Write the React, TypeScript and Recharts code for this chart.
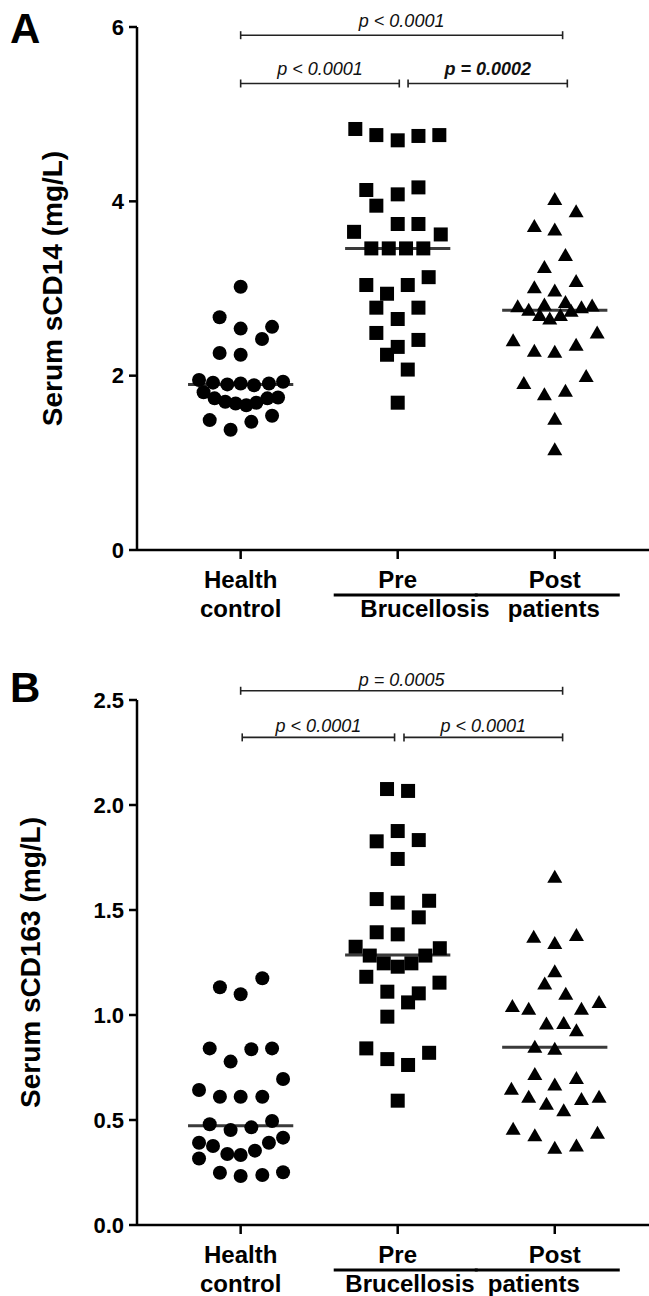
import React from 'react';
import { ScatterChart, Scatter, XAxis, YAxis, ReferenceLine } from 'recharts';

const FONT = '"Liberation Sans", Arial, Helvetica, sans-serif';

// Categories / tick labels
const categories = ['Health control', 'Pre', 'Post'];
const catTop = ['Health', 'Pre', 'Post'];
const catBottom = ['control', '', ''];
const groupWords = ['Brucellosis', 'patients'];

// ---------- Panel A: Serum sCD14 (mg/L) ----------
const aHealthValues = [3.02, 2.67, 2.54, 2.56, 2.42, 2.26, 2.24, 1.95, 1.92, 1.9, 1.91, 1.89, 1.91, 1.93, 1.81, 1.74, 1.7, 1.68, 1.66, 1.69, 1.74, 1.75, 1.49, 1.38, 1.47, 1.54];
const aHealthJitter = [0, -0.134, 0, 0.2, 0.136, -0.134, 0, -0.265, -0.176, -0.085, 0, 0.085, 0.18, 0.27, -0.236, -0.166, -0.098, -0.032, 0.036, 0.1, 0.17, 0.238, -0.197, -0.064, 0.068, 0.2];
const aPreValues = [4.83, 4.76, 4.7, 4.75, 4.76, 4.13, 4.08, 4.16, 3.95, 3.65, 3.74, 3.74, 3.62, 3.46, 3.46, 3.46, 3.46, 3.04, 2.94, 3.04, 3.13, 2.78, 2.78, 2.65, 2.49, 2.41, 2.33, 2.24, 2.07, 1.69];
const aPreJitter = [-0.27, -0.136, 0, 0.132, 0.265, -0.2, 0, 0.132, -0.136, -0.278, 0, 0.132, 0.274, -0.168, -0.057, 0.053, 0.163, -0.2, -0.068, 0.064, 0.197, -0.136, 0.132, 0, -0.136, 0.132, 0, -0.068, 0.064, 0];
const aPostValues = [4.02, 3.88, 3.71, 3.67, 3.38, 3.24, 3.08, 3.01, 2.97, 2.79, 2.75, 2.81, 2.84, 2.78, 2.8, 2.69, 2.65, 2.69, 2.74, 2.4, 2.49, 2.28, 2.27, 2.35, 1.99, 1.91, 1.78, 1.82, 1.5, 1.15];
const aPostJitter = [0, 0.136, -0.13, 0, 0.068, -0.066, 0.136, -0.13, 0, -0.236, -0.166, -0.066, 0.068, 0.17, 0.238, -0.096, -0.032, 0.036, 0.104, -0.265, 0.27, -0.13, 0, 0.136, 0.2, -0.197, -0.066, 0.068, 0, 0];
const aMedians = [1.9, 3.46, 2.75];
const aTicks = [0, 2, 4, 6];
const aBrackets = [
  { x1: 0, x2: 2.05, y: 5.906, text: 'p < 0.0001', bold: false },
  { x1: 0, x2: 1.01, y: 5.352, text: 'p < 0.0001', bold: false },
  { x1: 1.066, x2: 2.08, y: 5.352, text: 'p = 0.0002', bold: true },
];

// ---------- Panel B: Serum sCD163 (mg/L) ----------
const bHealthValues = [1.175, 1.132, 1.099, 0.841, 0.837, 0.841, 0.778, 0.695, 0.643, 0.611, 0.611, 0.611, 0.48, 0.452, 0.465, 0.495, 0.392, 0.376, 0.338, 0.333, 0.354, 0.392, 0.416, 0.317, 0.249, 0.233, 0.238, 0.251];
const bHealthJitter = [0.138, -0.132, 0, -0.197, 0.068, 0.2, -0.064, 0.27, -0.265, -0.132, 0, 0.138, -0.197, -0.064, 0.068, 0.2, -0.265, -0.176, -0.085, 0, 0.091, 0.18, 0.27, -0.265, -0.132, 0, 0.138, 0.27];
const bPreValues = [2.076, 2.067, 1.876, 1.827, 1.833, 1.743, 1.552, 1.535, 1.544, 1.465, 1.394, 1.384, 1.325, 1.318, 1.283, 1.246, 1.23, 1.246, 1.283, 1.182, 1.154, 1.111, 1.103, 1.06, 0.992, 0.841, 0.82, 0.79, 0.762, 0.592];
const bPreJitter = [-0.068, 0.066, 0, -0.134, 0.134, 0, -0.134, 0, 0.2, 0.134, -0.134, 0, -0.268, 0.268, -0.178, -0.089, 0, 0.087, 0.176, -0.2, 0.266, -0.066, 0.134, 0.066, -0.066, -0.2, 0.2, -0.066, 0.066, 0];
const bPostValues = [1.656, 1.37, 1.341, 1.378, 1.206, 1.148, 1.099, 1.04, 1.027, 1.027, 1.059, 0.957, 0.96, 0.925, 0.846, 0.837, 0.717, 0.667, 0.698, 0.646, 0.608, 0.575, 0.544, 0.598, 0.608, 0.456, 0.425, 0.365, 0.376, 0.437];
const bPostJitter = [0, -0.134, 0, 0.138, 0, -0.064, 0.07, -0.27, -0.166, 0.17, 0.282, -0.053, 0.057, 0.138, -0.127, 0, -0.127, 0, 0.138, -0.276, -0.166, -0.053, 0.057, 0.17, 0.282, -0.265, -0.127, 0, 0.138, 0.272];
const bMedians = [0.473, 1.286, 0.846];
const bTicks = [0, 0.5, 1, 1.5, 2, 2.5];
const bBrackets = [
  { x1: 0, x2: 2.05, y: 2.544, text: 'p = 0.0005', bold: false },
  { x1: 0.01, x2: 0.98, y: 2.322, text: 'p < 0.0001', bold: false },
  { x1: 1.04, x2: 2.05, y: 2.322, text: 'p < 0.0001', bold: false },
];

const toPoints = (values: number[], jitter: number[], group: number) =>
  values.map((v, i) => ({ x: group + jitter[i], y: v }));

const CircleShape = (p: any) => <circle cx={p.cx} cy={p.cy} r={7} fill="#000" />;
const SquareShape = (p: any) => <rect x={p.cx - 7} y={p.cy - 7} width={14} height={14} fill="#000" />;
const TriangleShape = (p: any) => (
  <polygon points={`${p.cx},${p.cy - 7.5} ${p.cx + 7.5},${p.cy + 5.5} ${p.cx - 7.5},${p.cy + 5.5}`} fill="#000" />
);

const CategoryTick = (props: any) => {
  const { x, y, payload, wordEnd, wordStart } = props;
  const i = Math.round(payload.value);
  return (
    <g fontFamily={FONT} fontWeight="bold" fontSize={24} fill="#000">
      <text x={x} y={y + 29} textAnchor="middle" fill="#000">{catTop[i]}</text>
      {catBottom[i] ? (
        <text x={x} y={y + 58} textAnchor="middle" fill="#000">{catBottom[i]}</text>
      ) : null}
      {i === 1 ? (
        <g>
          <line x1={x - 64} x2={x + 80} y1={y + 36} y2={y + 36} stroke="#000" strokeWidth={3} />
          <text x={x + wordEnd} y={y + 58} textAnchor="end" fill="#000">{groupWords[0]}</text>
        </g>
      ) : null}
      {i === 2 ? (
        <g>
          <line x1={x - 80} x2={x + 65} y1={y + 36} y2={y + 36} stroke="#000" strokeWidth={3} />
          <text x={x - wordStart} y={y + 58} textAnchor="start" fill="#000">{groupWords[1]}</text>
        </g>
      ) : null}
    </g>
  );
};

const BracketLabel = ({ viewBox, text, bold, gap }: any) => {
  if (!viewBox) return null;
  const { x, y, width } = viewBox;
  return (
    <g>
      <line x1={x} x2={x} y1={y - 4} y2={y + 4} stroke="#222" strokeWidth={1.6} />
      <line x1={x + width} x2={x + width} y1={y - 4} y2={y + 4} stroke="#222" strokeWidth={1.6} />
      <text
        x={x + width / 2}
        y={y - gap}
        textAnchor="middle"
        fontFamily={FONT}
        fontStyle="italic"
        fontWeight={bold ? 'bold' : 'normal'}
        fontSize={18}
        fill="#111"
      >
        {text}
      </text>
    </g>
  );
};

const YTitle = ({ viewBox, title, letter, titleX, letterY, letterSize }: any) => {
  if (!viewBox) return null;
  const cy = viewBox.y + viewBox.height / 2;
  return (
    <g fontFamily={FONT} fontWeight="bold" fill="#000">
      <text x={10} y={letterY} fontSize={letterSize} fill="#000">{letter}</text>
      <text
        x={titleX}
        y={cy}
        fontSize={28}
        textAnchor="middle"
        dominantBaseline="central"
        transform={`rotate(-90 ${titleX} ${cy})`}
        fill="#000"
      >
        {title}
      </text>
    </g>
  );
};

type PanelProps = {
  height: number;
  marginTop: number;
  marginBottom: number;
  xAxisHeight: number;
  domainMax: number;
  ticks: number[];
  fmt: (v: number) => string;
  health: { x: number; y: number }[];
  pre: { x: number; y: number }[];
  post: { x: number; y: number }[];
  medians: number[];
  brackets: { x1: number; x2: number; y: number; text: string; bold: boolean }[];
  gap: number;
  title: string;
  letter: string;
  titleX: number;
  letterY: number;
  letterSize: number;
  wordEnd: number;
  wordStart: number;
};

const Panel = (p: PanelProps) => (
  <ScatterChart
    width={649}
    height={p.height}
    margin={{ top: p.marginTop, right: 0, bottom: p.marginBottom, left: 0 }}
  >
    <XAxis
      type="number"
      dataKey="x"
      domain={[-0.66, 2.6]}
      ticks={[0, 1, 2]}
      allowDataOverflow
      height={p.xAxisHeight}
      axisLine={{ stroke: '#000', strokeWidth: 2.5 }}
      tickLine={{ stroke: '#000', strokeWidth: 2.5 }}
      tickSize={9}
      tickMargin={0}
      tick={<CategoryTick wordEnd={p.wordEnd} wordStart={p.wordStart} />}
      interval={0}
    />
    <YAxis
      type="number"
      dataKey="y"
      domain={[0, p.domainMax]}
      ticks={p.ticks}
      allowDataOverflow
      width={137}
      axisLine={{ stroke: '#000', strokeWidth: 2.5 }}
      tickLine={{ stroke: '#000', strokeWidth: 2.5 }}
      tickSize={8}
      tickMargin={5}
      tickFormatter={p.fmt}
      tick={{ fontFamily: FONT, fontWeight: 'bold', fontSize: 22, fill: '#000' }}
      label={{
        content: (lp: any) => (
          <YTitle
            viewBox={lp.viewBox}
            title={p.title}
            letter={p.letter}
            titleX={p.titleX}
            letterY={p.letterY}
            letterSize={p.letterSize}
          />
        ),
      }}
    />
    <Scatter data={p.health} shape={CircleShape} isAnimationActive={false} fill="#000" />
    <Scatter data={p.pre} shape={SquareShape} isAnimationActive={false} fill="#000" />
    <Scatter data={p.post} shape={TriangleShape} isAnimationActive={false} fill="#000" />
    {p.medians.map((m, i) => (
      <ReferenceLine
        key={'m' + i}
        segment={[{ x: i - 0.335, y: m }, { x: i + 0.335, y: m }]}
        stroke="#3a3a3a"
        strokeWidth={3}
        ifOverflow="visible"
      />
    ))}
    {p.brackets.map((b, i) => (
      <ReferenceLine
        key={'b' + i}
        segment={[{ x: b.x1, y: b.y }, { x: b.x2, y: b.y }]}
        stroke="#222"
        strokeWidth={1.6}
        ifOverflow="visible"
        label={{
          content: (lp: any) => <BracketLabel viewBox={lp.viewBox} text={b.text} bold={b.bold} gap={p.gap} />,
        }}
      />
    ))}
  </ScatterChart>
);

export default function App() {
  return (
    <div style={{ position: 'absolute', left: 0, top: 0, width: 649, height: 1296, background: '#fff' }}>
      <div style={{ position: 'absolute', left: 0, top: 0 }}>
        <Panel
          height={640}
          marginTop={27}
          marginBottom={10}
          xAxisHeight={80}
          domainMax={6}
          ticks={aTicks}
          fmt={(v) => String(v)}
          health={toPoints(aHealthValues, aHealthJitter, 0)}
          pre={toPoints(aPreValues, aPreJitter, 1)}
          post={toPoints(aPostValues, aPostJitter, 2)}
          medians={aMedians}
          brackets={aBrackets}
          gap={8}
          title="Serum sCD14 (mg/L)"
          letter="A"
          titleX={52}
          letterY={43}
          letterSize={42}
          wordEnd={92}
          wordStart={47}
        />
      </div>
      <div style={{ position: 'absolute', left: 0, top: 640 }}>
        <Panel
          height={656}
          marginTop={60}
          marginBottom={0}
          xAxisHeight={71}
          domainMax={2.5}
          ticks={bTicks}
          fmt={(v) => v.toFixed(1)}
          health={toPoints(bHealthValues, bHealthJitter, 0)}
          pre={toPoints(bPreValues, bPreJitter, 1)}
          post={toPoints(bPostValues, bPostJitter, 2)}
          medians={bMedians}
          brackets={bBrackets}
          gap={5}
          title="Serum sCD163 (mg/L)"
          letter="B"
          titleX={30}
          letterY={62}
          letterSize={42}
          wordEnd={77}
          wordStart={67}
        />
      </div>
    </div>
  );
}
